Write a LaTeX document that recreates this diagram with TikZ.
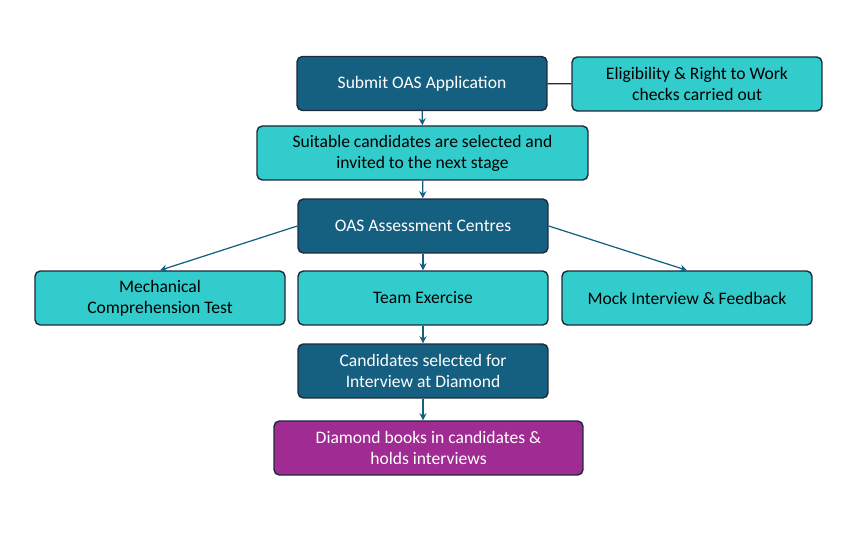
\documentclass[tikz,border=0pt]{standalone}
\usepackage{fontspec}
\setmainfont{Carlito}
\usetikzlibrary{arrows.meta}
\definecolor{darkbox}{HTML}{155F80}
\definecolor{lightbox}{HTML}{33CCCC}
\definecolor{purplebox}{HTML}{A02B93}
\definecolor{edgeline}{HTML}{1B2A3A}
\begin{document}
\begin{tikzpicture}[x=0.02cm,y=-0.02cm,
    box/.style={draw=edgeline, line width=0.8pt, rounded corners=3pt, minimum height=1.08cm,
      align=center, font=\fontsize{10}{12}\selectfont, inner sep=2pt},
    dark/.style={box, fill=darkbox, text=white},
    light/.style={box, fill=lightbox, text=black},
    purple/.style={box, fill=purplebox, text=white},
    link/.style={draw=darkbox, line width=0.7pt, -{Stealth[length=4pt,width=4pt]}}]
  \useasboundingbox (0,0) rectangle (845,553);
  \node[dark, minimum width=5cm] (submit) at (422,83.5) {Submit OAS Application};
  \node[light, minimum width=5cm] (elig) at (697,84) {Eligibility \& Right to Work\\checks carried out};
  \node[light, minimum width=6.62cm] (suitable) at (422.5,153) {Suitable candidates are selected and\\invited to the next stage};
  \node[dark, minimum width=5cm] (centres) at (423,226) {OAS Assessment Centres};
  \node[light, minimum width=5cm] (mech) at (160,298) {Mechanical\\Comprehension Test};
  \node[light, minimum width=5cm] (team) at (423,298) {Team Exercise};
  \node[light, minimum width=5cm] (mock) at (687,298) {Mock Interview \& Feedback};
  \node[dark, minimum width=5cm] (select) at (423,371) {Candidates selected for\\Interview at Diamond};
  \node[purple, minimum width=6.18cm] (diamond) at (428.5,448) {Diamond books in candidates \&\\holds interviews};

  \draw[draw=edgeline, line width=0.8pt] (submit) -- (elig);
  \draw[link] (submit) -- (suitable);
  \draw[link] (suitable) -- (centres);
  \draw[link] (centres.west) -- (mech.north);
  \draw[link] (centres) -- (team);
  \draw[link] (centres.east) -- (mock.north);
  \draw[link] (team) -- (select);
  \draw[link] (select) -- (select |- diamond.north);
\end{tikzpicture}
\end{document}
